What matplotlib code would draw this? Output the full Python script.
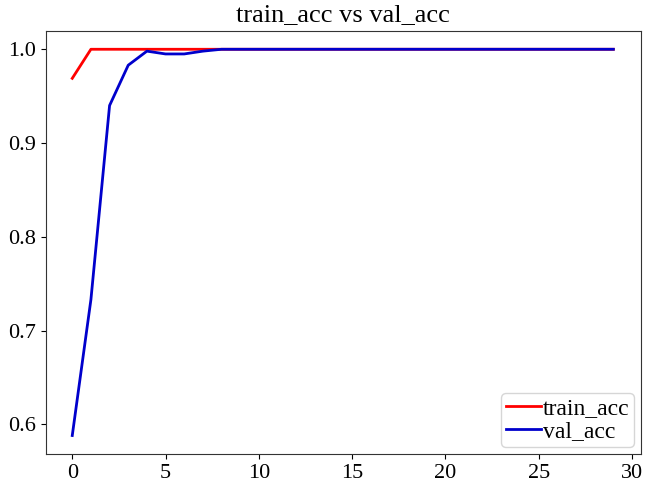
import matplotlib
matplotlib.use('Agg')
import matplotlib.pyplot as plt
import numpy as np

epochs = np.arange(30)
train_acc = [0.969, 1.0, 1.0, 1.0, 1.0, 1.0, 1.0, 1.0, 1.0, 1.0] + [1.0] * 20
val_acc = [0.588, 0.733, 0.940, 0.983, 0.998, 0.995, 0.995, 0.998, 1.0, 1.0] + [1.0] * 20

plt.rcParams['font.family'] = ['Liberation Serif', 'DejaVu Serif']

fig = plt.figure(figsize=(6.46, 4.88), dpi=100)
ax = fig.add_axes([0.0707, 0.0697, 0.9215, 0.8668])

ax.plot(epochs, train_acc, color='red', lw=2, label='train_acc')
ax.plot(epochs, val_acc, color='#0000cc', lw=2, label='val_acc')

ax.set_title('train_acc vs val_acc', fontsize=19, pad=7)
ax.set_xticks([0, 5, 10, 15, 20, 25, 30])
ax.set_yticks([0.6, 0.7, 0.8, 0.9, 1.0])
ax.set_ylim(0.5683, 1.0195)
ax.set_xlim(-1.425, 30.48)
ax.tick_params(labelsize=16, direction='out')
for s in ax.spines.values():
    s.set_color('#333333')
ax.legend(loc='lower right', fontsize=17, handlelength=1.5, handletextpad=0.05,
          borderpad=0.2, labelspacing=0.05, borderaxespad=0.3, fancybox=True)

fig.savefig('out.png', dpi=100)
